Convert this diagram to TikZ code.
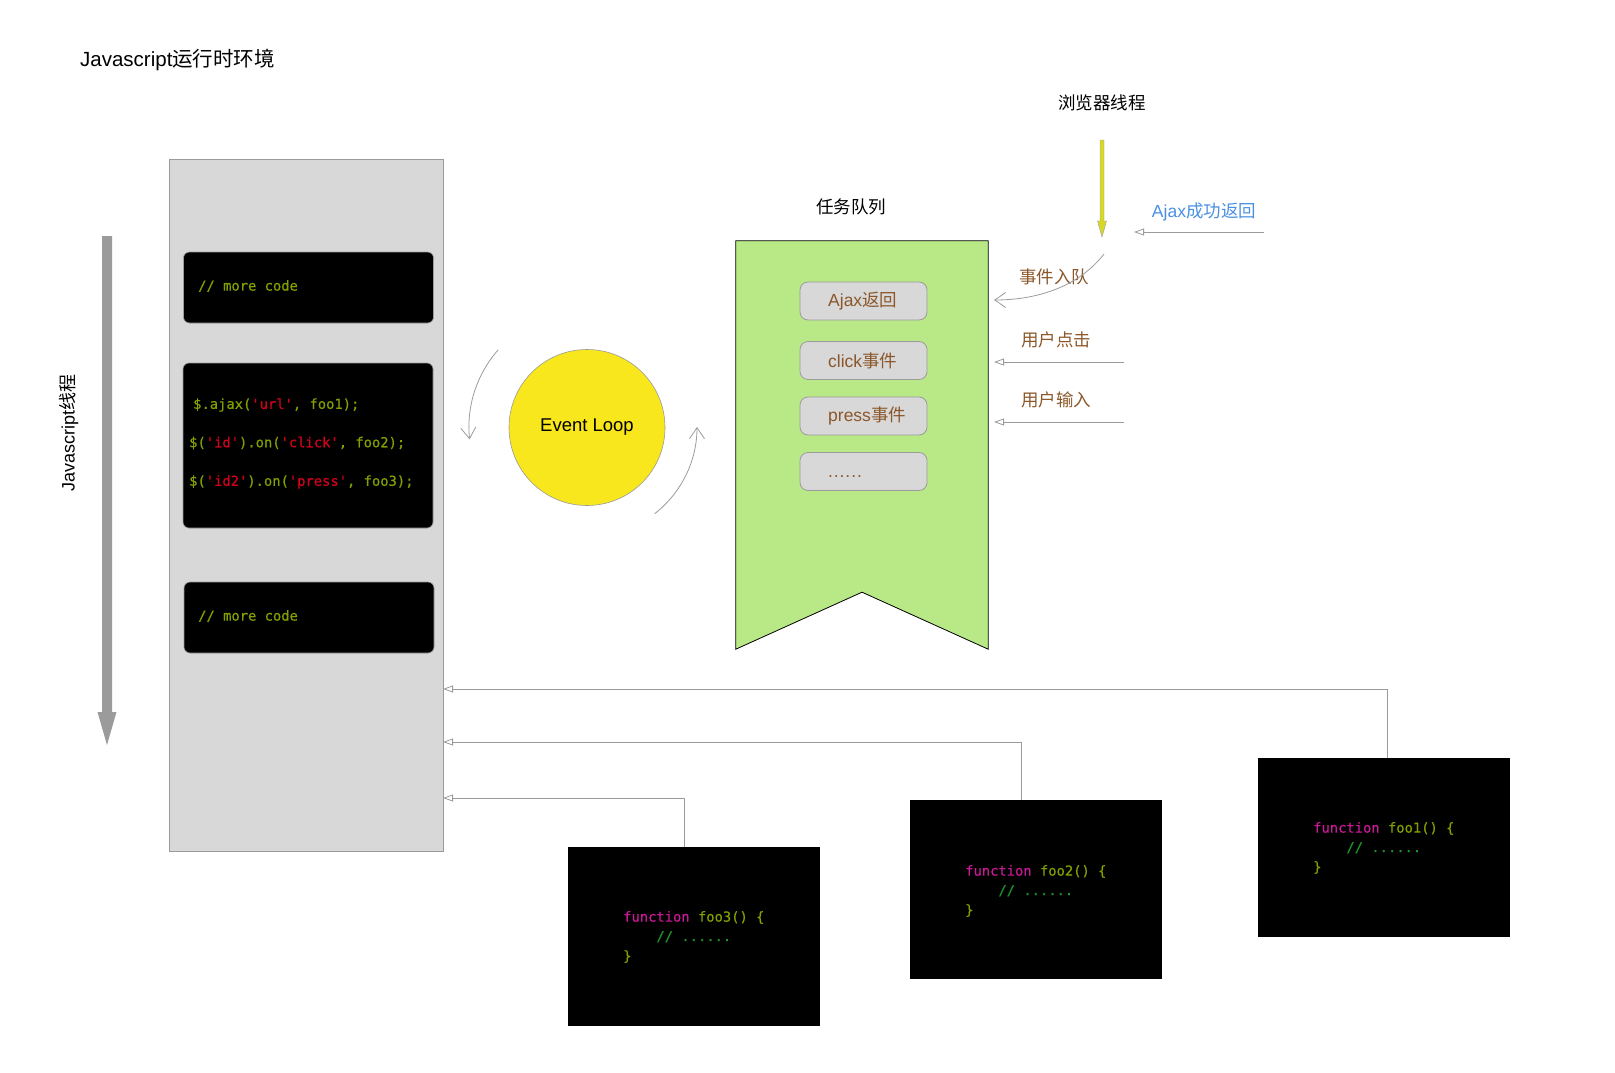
\documentclass[tikz,border=0pt]{standalone}
\usepackage{fontspec}
\setmainfont{Liberation Sans}
\setmonofont[FakeBold=0.5]{DejaVu Sans Mono}
\newfontfamily\cjk{Noto Sans CJK SC}
\usetikzlibrary{arrows.meta}
\definecolor{jsgray}{HTML}{D8D8D8}
\definecolor{bordergray}{HTML}{9B9B9B}
\definecolor{qgreen}{HTML}{B8E986}
\definecolor{elyellow}{HTML}{F8E71C}
\definecolor{yarrowc}{RGB}{215,215,40}
\definecolor{brownt}{HTML}{8B572A}
\definecolor{bluet}{HTML}{4A90E2}
\definecolor{cgreen}{RGB}{130,160,0}
\definecolor{cred}{HTML}{D0021B}
\definecolor{cmag}{RGB}{200,25,150}
\definecolor{ccom}{RGB}{30,145,40}
\newcommand{\lbl}{\fontsize{17.5}{21}\selectfont}
\newcommand{\codef}{\ttfamily\fontsize{13.8}{19.5}\selectfont}
\newcommand{\sixdots}{.\kern0.9pt.\kern0.9pt.\kern0.9pt.\kern0.9pt.\kern0.9pt.}
\begin{document}
\begin{tikzpicture}[x=1pt,y=-1pt,
  jsenv/.style={draw=bordergray,fill=jsgray,line width=0.8pt,minimum width=274pt,minimum height=692pt,inner sep=0pt},
  codebox/.style={draw=bordergray,fill=black,line width=0.6pt,rounded corners=6pt,minimum width=250pt,inner sep=0pt},
  fbox/.style={fill=black,minimum width=252pt,minimum height=179pt,inner sep=0pt},
  codetxt/.style={anchor=west,inner sep=0pt,font=\codef,align=left},
  qitem/.style={draw=bordergray,fill=jsgray,line width=0.8pt,rounded corners=8pt,minimum width=127pt,minimum height=38pt,inner sep=0pt},
  qtxt/.style={anchor=west,inner sep=0pt,text=brownt,font=\lbl},
  conn/.style={draw=bordergray,line width=0.8pt,-{Triangle[open,length=10pt,width=7pt]}},
  barb/.style={draw=bordergray,line width=0.8pt,-{Straight Barb[length=11pt,width=15pt]}},
  plain/.style={inner sep=0pt,font=\lbl}]
\useasboundingbox (0,0) rectangle (1615,1073);

% titles
\node[plain,anchor=west,font=\fontsize{20.5}{24}\selectfont] (title) at (80,60) {Javascript{\cjk 运行时环境}};
\node[plain] (browser) at (1102,103) {\cjk 浏览器线程};
\node[plain] (qtitle) at (851,207) {\cjk 任务队列};
\node[plain,rotate=90,font=\fontsize{18}{22}\selectfont] (jsthread) at (69,433) {Javascript{\cjk 线程}};

% JS thread arrow
\fill[bordergray] (102,236) -- (112,236) -- (112,712) -- (116.5,712) -- (107,745) -- (97.5,712) -- (102,712) -- cycle;

% JS runtime box
\node[jsenv] (js) at (306,505) {};
\node[codebox,minimum height=71pt] (c1) at (308.5,287.5) {};
\node[codebox,minimum height=165pt] (c2) at (308,445.5) {};
\node[codebox,minimum height=71pt] (c3) at (309,617.5) {};
\node[codetxt] (c1t) at (198,286) {\textcolor{cgreen}{// more code}};
\node[codetxt] (c2a) at (193,405) {\textcolor{cgreen}{\$.ajax(}\textcolor{cred}{'url'}\textcolor{cgreen}{, foo1);}};
\node[codetxt] (c2b) at (189,443) {\textcolor{cgreen}{\$(}\textcolor{cred}{'id'}\textcolor{cgreen}{).on(}\textcolor{cred}{'click'}\textcolor{cgreen}{, foo2);}};
\node[codetxt] (c2c) at (189,482) {\textcolor{cgreen}{\$(}\textcolor{cred}{'id2'}\textcolor{cgreen}{).on(}\textcolor{cred}{'press'}\textcolor{cgreen}{, foo3);}};
\node[codetxt] (c3t) at (198,616) {\textcolor{cgreen}{// more code}};

% Event loop
\node[circle,draw=bordergray,fill=elyellow,line width=0.6pt,minimum size=156pt,inner sep=0pt,font=\fontsize{18.5}{22}\selectfont] (el) at (587,427.5) {Event Loop};
\draw[barb] (498,350) .. controls (476.5,374.7) and (466.2,406.8) .. (469.6,439.3);
\draw[barb] (654.7,513.7) .. controls (681.4,492.8) and (697,460.9) .. (697,427);

% task queue
\node[inner sep=0pt,minimum width=252pt,minimum height=408pt] (queue) at (862,445) {};
\draw[fill=qgreen,draw=black,line width=0.8pt] (queue.north west) -- (queue.north east) -- (queue.south east) -- ([yshift=57pt]queue.south) -- (queue.south west) -- cycle;
\node[qitem] (q1) at (863.5,301) {};
\node[qitem] (q2) at (863.5,360.5) {};
\node[qitem] (q3) at (863.5,416) {};
\node[qitem] (q4) at (863.5,471.5) {};
\node[qtxt] (q1t) at (828,301) {Ajax{\cjk 返回}};
\node[qtxt] (q2t) at (828,360.5) {click{\cjk 事件}};
\node[qtxt] (q3t) at (828,416) {press{\cjk 事件}};
\node[qtxt,anchor=base west] (q4t) at (828,477) {\sixdots};

% browser thread
\fill[yarrowc,draw=bordergray,line width=0.4pt] (1100,140) -- (1104,140) -- (1104,221) -- (1106.5,221) -- (1102,237) -- (1097.5,221) -- (1100,221) -- cycle;
\node[plain,text=bluet] (ajaxok) at (1204,212) {Ajax{\cjk 成功返回}};
\coordinate (a0) at (1264,232);
\coordinate (a1) at (1134,232);
\draw[conn] (a0) -- (a1);

\node[plain,text=brownt] (enq) at (1054,277) {\cjk 事件入队};
\coordinate (en0) at (1104,254);
\coordinate (en1) at (994,300);
\draw[barb] (en0) .. controls (1080,285) and (1040,300) .. (en1);

\node[plain,text=brownt] (click) at (1056,340) {\cjk 用户点击};
\coordinate (u1s) at (1124,362);
\coordinate (u1e) at (994,362);
\draw[conn] (u1s) -- (u1e);
\node[plain,text=brownt] (input) at (1056,400) {\cjk 用户输入};
\coordinate (u2s) at (1124,422);
\coordinate (u2e) at (994,422);
\draw[conn] (u2s) -- (u2e);

% callback functions
\node[fbox] (foo3) at (694,936.5) {};
\node[fbox] (foo2) at (1036,889.5) {};
\node[fbox] (foo1) at (1384,847.5) {};
\node[codetxt] (f3t) at (623,937) {\textcolor{cmag}{function} \textcolor{cgreen}{foo3() \{}\\\phantom{func}\textcolor{ccom}{// ......}\\\textcolor{cgreen}{\}}};
\node[codetxt] (f2t) at (965,891) {\textcolor{cmag}{function} \textcolor{cgreen}{foo2() \{}\\\phantom{func}\textcolor{ccom}{// ......}\\\textcolor{cgreen}{\}}};
\node[codetxt] (f1t) at (1313,848) {\textcolor{cmag}{function} \textcolor{cgreen}{foo1() \{}\\\phantom{func}\textcolor{ccom}{// ......}\\\textcolor{cgreen}{\}}};

\coordinate (e1) at (443,689);
\coordinate (e2) at (443,742);
\coordinate (e3) at (443,798);
\draw[conn] ([xshift=3pt]foo1.north) |- (e1);
\draw[conn] ([xshift=-15pt]foo2.north) |- (e2);
\draw[conn] ([xshift=-10pt]foo3.north) |- (e3);
\end{tikzpicture}
\end{document}
